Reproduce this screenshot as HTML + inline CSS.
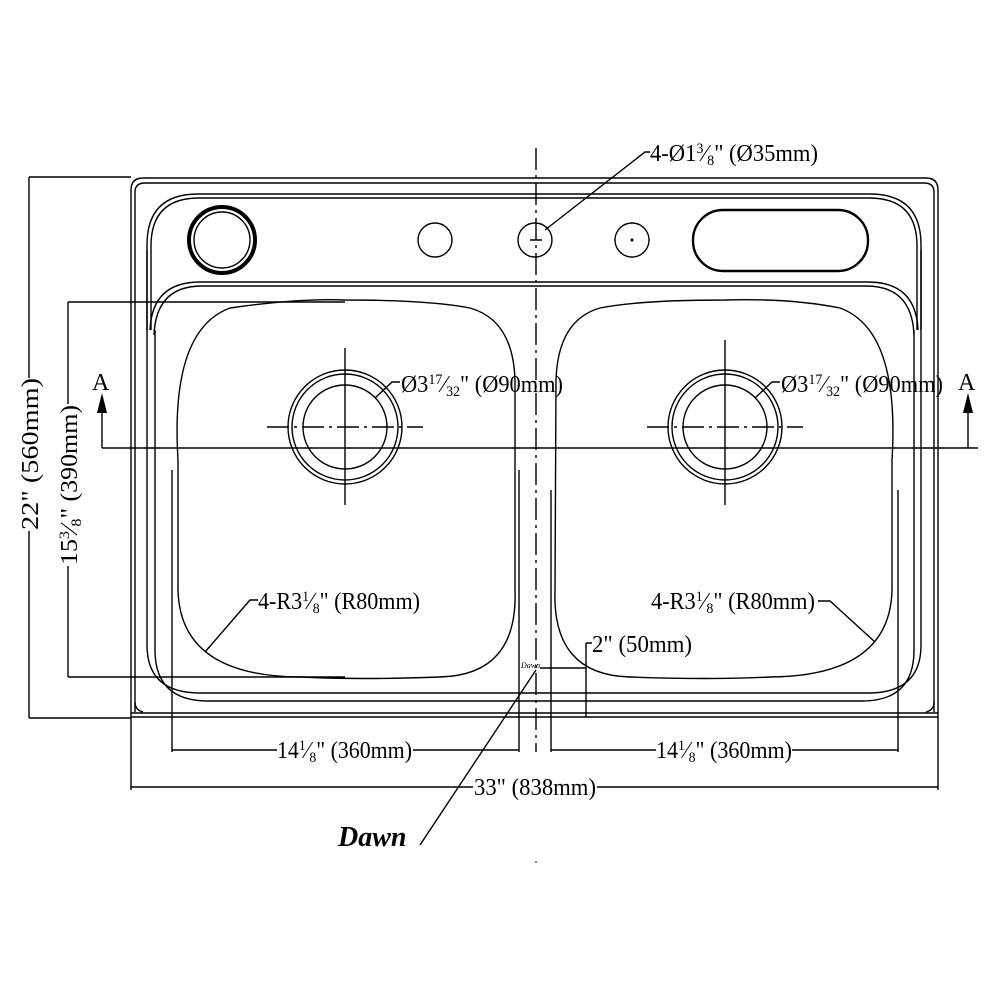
<!DOCTYPE html>
<html><head><meta charset="utf-8"><style>
html,body{margin:0;padding:0;background:#fff;width:1000px;height:1000px;overflow:hidden}
svg{display:block}
text{font-family:"Liberation Serif",serif;font-size:24px;fill:#000}
.s{font-size:15px}
</style></head><body>
<svg width="1000" height="1000" viewBox="0 0 1000 1000" xmlns="http://www.w3.org/2000/svg">
<g fill="none" stroke="#000" stroke-width="1.4">
<path d="M131,717 V190 Q131,178 143,178 H926 Q938,178 938,190 V717"/>
<path d="M135,712 V192 Q135,183 145,183 H924 Q934,183 934,192 V712"/>
<path d="M131,717 H938 M131,713 H938"/>
<path d="M135,702 Q135,710 143,712 M934,702 Q934,710 926,712"/>
<path d="M147,330 V245 Q147,194 198,194 H870 Q921,194 921,245 V330"/>
<path d="M151,330 V246 Q151,198 199,198 H869 Q917,198 917,246 V330"/>
<path d="M150,330 Q152,282 200,282 H868 Q916,282 918,330"/>
<path d="M154,335 Q156,286 202,286 H866 Q912,286 914,335"/>
<path d="M147,250 V645 Q147,693 200,693 H868 Q921,693 921,645 V250"/>
<path d="M155,330 V650 Q155,701 208,701 H862 Q914,701 914,650 V330"/>
<path d="M178,460 Q170,330 230,308 Q300,298 345,300 Q430,300 470,308 Q513,320 515,380 V590 Q518,675 440,677 Q360,680 300,677 Q180,676 178,590 Z"/>
<path d="M556,380 Q558,320 600,308 Q640,300 725,300 Q790,298 840,308 Q900,330 892,460 V590 Q890,676 770,677 Q710,680 630,677 Q552,675 555,590 Z"/>
<path d="M172,470 V752 M519,470 V752 M551,490 V752 M898,490 V752"/>
<circle cx="345" cy="427" r="57"/><circle cx="345" cy="427" r="53"/><circle cx="345" cy="427" r="42"/>
<circle cx="725" cy="427" r="57"/><circle cx="725" cy="427" r="53"/><circle cx="725" cy="427" r="42"/>
<circle cx="222" cy="240" r="33" stroke-width="4"/><circle cx="222" cy="240" r="28"/>
<circle cx="435" cy="240" r="17"/><circle cx="535" cy="240" r="17"/><circle cx="632" cy="240" r="17"/>
<rect x="693" y="210" width="175" height="61" rx="30" stroke-width="2.4"/>
<path d="M536,148 V752" stroke-dasharray="22,5,3,5"/>
<path d="M267,427 H423 M647,427 H803" stroke-dasharray="22,5,3,5"/>
<path d="M345,348 V505 M725,340 V505 M530,240 H542"/>
<path d="M102,448 H978 M102,448 V410 M968,448 V410"/>
<path d="M29,177 H131 M29,718 H131 M29,177 V718"/>
<path d="M68,302 H345 M68,677 H345 M68,302 V677"/>
<path d="M172,750 H519 M551,750 H898 M131,717 V790 M938,717 V790 M131,787 H938"/>
<path d="M545,230 L645,152 H650"/>
<path d="M375,398 L392,382 H400"/>
<path d="M755,398 L772,382 H780"/>
<path d="M205,652 L250,600 H258"/>
<path d="M875,642 L830,601 H818"/>
<path d="M540,668 H586 V717 M586,643 V668 M586,643 H592"/>
<path d="M536,670 L420,845"/>
</g>
<path d="M97,413 L102,393 L107,413 Z M963,413 L968,393 L973,413 Z"/>
<circle cx="632" cy="240" r="1.5"/>
<text x="92" y="390">A</text>
<text x="958" y="390">A</text>
<text x="650" y="161" textLength="168" lengthAdjust="spacingAndGlyphs">4-Ø1<tspan class="s" dy="-8">3</tspan><tspan dy="8">⁄</tspan><tspan class="s" dy="4">8</tspan><tspan dy="-4">" (Ø35mm)</tspan></text>
<text x="401" y="392" textLength="162" lengthAdjust="spacingAndGlyphs">Ø3<tspan class="s" dy="-8">17</tspan><tspan dy="8">⁄</tspan><tspan class="s" dy="4">32</tspan><tspan dy="-4">" (Ø90mm)</tspan></text>
<text x="781" y="392" textLength="162" lengthAdjust="spacingAndGlyphs">Ø3<tspan class="s" dy="-8">17</tspan><tspan dy="8">⁄</tspan><tspan class="s" dy="4">32</tspan><tspan dy="-4">" (Ø90mm)</tspan></text>
<text x="258" y="609" textLength="162" lengthAdjust="spacingAndGlyphs">4-R3<tspan class="s" dy="-8">1</tspan><tspan dy="8">⁄</tspan><tspan class="s" dy="4">8</tspan><tspan dy="-4">" (R80mm)</tspan></text>
<text x="651" y="609" textLength="164" lengthAdjust="spacingAndGlyphs">4-R3<tspan class="s" dy="-8">1</tspan><tspan dy="8">⁄</tspan><tspan class="s" dy="4">8</tspan><tspan dy="-4">" (R80mm)</tspan></text>
<text x="592" y="652" textLength="100" lengthAdjust="spacingAndGlyphs">2" (50mm)</text>
<rect x="277" y="736" width="136" height="24" fill="#fff"/>
<text x="277" y="758" textLength="135" lengthAdjust="spacingAndGlyphs">14<tspan class="s" dy="-8">1</tspan><tspan dy="8">⁄</tspan><tspan class="s" dy="4">8</tspan><tspan dy="-4">" (360mm)</tspan></text>
<rect x="656" y="736" width="136" height="24" fill="#fff"/>
<text x="656" y="758" textLength="136" lengthAdjust="spacingAndGlyphs">14<tspan class="s" dy="-8">1</tspan><tspan dy="8">⁄</tspan><tspan class="s" dy="4">8</tspan><tspan dy="-4">" (360mm)</tspan></text>
<rect x="473" y="774" width="124" height="26" fill="#fff"/>
<text x="474" y="795" textLength="122" lengthAdjust="spacingAndGlyphs">33" (838mm)</text>
<rect x="16" y="378" width="26" height="153" fill="#fff"/>
<text transform="translate(38,530) rotate(-90)" textLength="152" lengthAdjust="spacingAndGlyphs">22" (560mm)</text>
<rect x="54" y="404" width="26" height="162" fill="#fff"/>
<text transform="translate(77,565) rotate(-90)" textLength="160" lengthAdjust="spacingAndGlyphs">15<tspan class="s" dy="-8">3</tspan><tspan dy="8">⁄</tspan><tspan class="s" dy="4">8</tspan><tspan dy="-4">" (390mm)</tspan></text>
<text x="338" y="846" style="font-style:italic;font-weight:bold;font-size:28px">Dawn</text>
<text x="521" y="668" style="font-style:italic;font-size:8px">Dawn</text>
<circle cx="536" cy="862" r="0.8"/>
</svg>
</body></html>
